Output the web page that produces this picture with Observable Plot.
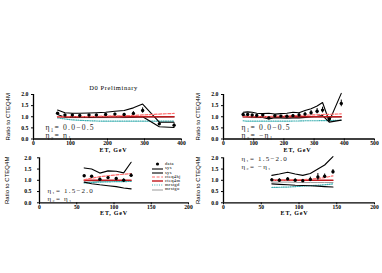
<!DOCTYPE html>
<html><head><meta charset="utf-8">
<script src="https://cdn.jsdelivr.net/npm/d3@7"></script>
<script src="https://cdn.jsdelivr.net/npm/@observablehq/plot@0.6"></script>
<style>
html,body{margin:0;padding:0;background:#fff;}
#chart{position:relative;width:382px;height:273px;overflow:hidden;font-family:"Liberation Serif",serif;}
#chart svg{position:absolute;left:0;top:0;}
.eta text{letter-spacing:1.2px;}
.etl text{letter-spacing:0.8px;}
.pre text{letter-spacing:0.6px;}
#legend{position:absolute;left:152px;top:162.3px;font-size:4.6px;line-height:4.2px;color:#000;}
#legend div{display:flex;align-items:center;height:4.2px;white-space:nowrap;letter-spacing:0.3px;}
#legend svg{position:static !important;margin-right:2px;}
</style>
</head><body>
<div id="chart"><div id="legend"></div></div>
<script>
// ---------- data ----------
const yTicks = [0, 0.5, 1, 1.5, 2];
const xTicksTL = [0, 100, 200, 300, 400];
const xTicksTR = [0, 100, 200, 300, 400, 500];
const xTicksB = [0, 50, 100, 150, 200];
const legendNames = ["data", "sys", "sys", "cteq4hj", "cteq4m", "mrstgd", "mrstgu"];

// top-left: eta1 = 0.0-0.5, eta2 = eta1
const tlET    = [65, 85, 105, 125, 150, 170, 195, 220, 245, 270, 295, 340, 380];
const tlData  = [1.16, 1.08, 1.08, 1.06, 1.08, 1.08, 1.10, 1.12, 1.10, 1.15, 1.28, 0.68, 0.62];
const tlErr   = [0.02, 0.02, 0.02, 0.02, 0.02, 0.03, 0.03, 0.04, 0.05, 0.08, 0.12, 0.06, 0.06];
const tlSysUp = [1.30, 1.18, 1.16, 1.16, 1.17, 1.18, 1.20, 1.25, 1.28, 1.40, 1.57, 0.76, 0.75];
const tlSysLo = [1.10, 0.98, 0.97, 0.97, 0.97, 0.98, 0.98, 1.00, 0.98, 0.98, 1.00, 0.55, 0.52];
const tlHJ    = [1.00, 1.00, 1.00, 1.00, 1.01, 1.02, 1.03, 1.04, 1.05, 1.06, 1.08, 1.12, 1.15];
const tlM     = [1.00, 1.00, 1.00, 1.00, 1.00, 1.00, 1.00, 1.00, 1.00, 1.00, 1.00, 1.00, 1.00];
const tlGD    = [0.95, 0.90, 0.86, 0.84, 0.82, 0.81, 0.80, 0.80, 0.80, 0.80, 0.80, 0.80, 0.80];
const tlGU    = [0.98, 0.97, 0.96, 0.96, 0.96, 0.96, 0.96, 0.96, 0.96, 0.97, 0.97, 0.97, 0.98];

// top-right: eta1 = 0.0-0.5, eta2 = -eta1
const trET    = [65, 80, 95, 110, 130, 150, 170, 190, 210, 230, 250, 270, 290, 310, 328, 350, 390];
const trData  = [1.10, 1.10, 1.08, 1.06, 1.08, 0.95, 1.05, 1.03, 1.02, 1.05, 1.08, 1.12, 1.18, 1.25, 1.30, 0.90, 1.60];
const trErr   = [0.02, 0.02, 0.02, 0.02, 0.02, 0.03, 0.03, 0.03, 0.04, 0.05, 0.06, 0.08, 0.10, 0.12, 0.13, 0.05, 0.15];
const trSysUp = [1.20, 1.22, 1.20, 1.16, 1.14, 1.16, 1.12, 1.14, 1.16, 1.20, 1.18, 1.28, 1.36, 1.48, 1.64, 0.80, 2.05];
const trSysLo = [1.05, 1.00, 0.98, 0.97, 0.97, 0.90, 0.96, 0.95, 0.93, 0.95, 0.95, 0.97, 1.00, 1.02, 1.05, 0.76, 0.85];
const trHJ    = [1.00, 1.00, 1.00, 1.00, 1.00, 1.01, 1.02, 1.03, 1.04, 1.05, 1.06, 1.07, 1.08, 1.09, 1.10, 1.11, 1.13];
const trM     = [1.00, 1.00, 1.00, 1.00, 1.00, 1.00, 1.00, 1.00, 1.00, 1.00, 1.00, 1.00, 1.00, 1.00, 1.00, 1.00, 1.00];
const trGD    = [0.82, 0.80, 0.80, 0.80, 0.80, 0.80, 0.80, 0.80, 0.80, 0.81, 0.81, 0.82, 0.82, 0.82, 0.83, 0.83, 0.84];
const trGU    = [0.97, 0.97, 0.96, 0.96, 0.96, 0.96, 0.96, 0.96, 0.96, 0.96, 0.96, 0.96, 0.97, 0.97, 0.97, 0.97, 0.98];

// bottom-left: eta1 = 1.5-2.0, eta2 = eta1
const blET    = [60, 70, 81, 92, 103, 113, 123];
const blData  = [1.20, 1.18, 1.05, 1.12, 1.08, 1.00, 1.22];
const blErr   = [0.03, 0.03, 0.04, 0.04, 0.05, 0.06, 0.08];
const blSysUp = [1.55, 1.50, 1.32, 1.42, 1.40, 1.33, 1.80];
const blSysLo = [0.92, 0.85, 0.80, 0.76, 0.72, 0.66, 0.62];
const blHJ    = [1.02, 1.10, 1.16, 1.20, 1.24, 1.27, 1.30];
const blM     = [1.00, 1.00, 1.00, 1.00, 1.00, 1.00, 1.00];
const blGD    = [0.88, 0.90, 0.92, 0.93, 0.94, 0.94, 0.95];
const blGU    = [0.92, 0.93, 0.95, 0.96, 0.97, 0.97, 0.98];

// bottom-right: eta1 = 1.5-2.0, eta2 = -eta1
const brET    = [64, 74, 85, 95, 105, 115, 125, 134, 145];
const brData  = [1.02, 1.00, 1.06, 1.00, 0.98, 1.04, 1.15, 1.18, 1.38];
const brErr   = [0.06, 0.07, 0.06, 0.06, 0.06, 0.10, 0.15, 0.10, 0.10];
const brSysUp = [1.22, 1.28, 1.36, 1.28, 1.22, 1.30, 1.50, 1.68, 2.05];
const brSysLo = [0.84, 0.82, 0.80, 0.78, 0.77, 0.76, 0.74, 0.72, 0.70];
const brHJ    = [1.00, 1.00, 1.01, 1.02, 1.03, 1.05, 1.08, 1.12, 1.20];
const brM     = [1.00, 1.00, 1.00, 1.00, 1.00, 1.00, 1.00, 1.00, 1.00];
const brGD    = [0.68, 0.69, 0.70, 0.72, 0.74, 0.76, 0.78, 0.80, 0.84];
const brGU    = [0.92, 0.92, 0.92, 0.91, 0.90, 0.90, 0.90, 0.90, 0.90];

// ---------- styles ----------
const C = {hj: "#ff6b6b", m: "#c0181c", gd: "#3aaeb0", gu: "#9a9a9a"};
const serif = "'Liberation Serif', 'Times New Roman', serif";
const narrow = "'Liberation Sans Narrow', 'Liberation Sans', sans-serif";

function rowsOf(et, v, e, up, lo, hj, m, gd, gu) {
  return et.map((x, i) => ({et: x, v: v[i], e: e[i], up: up[i], lo: lo[i], hj: hj[i], m: m[i], gd: gd[i], gu: gu[i]}));
}

function panel(o) {
  const rows = o.rows;
  const marks = [
    Plot.line(rows, {x: "et", y: "gu", stroke: C.gu, strokeWidth: 1}),
    Plot.line(rows, {x: "et", y: "gd", stroke: C.gd, strokeWidth: 1.2, strokeDasharray: "1,1.3"}),
    Plot.line(rows, {x: "et", y: "up", stroke: "black", strokeWidth: 1.1}),
    Plot.line(rows, {x: "et", y: "lo", stroke: "black", strokeWidth: 1.1}),
    Plot.line(rows, {x: "et", y: "m", stroke: C.m, strokeWidth: 1.4}),
    Plot.line(rows, {x: "et", y: "hj", stroke: C.hj, strokeWidth: 1.2, strokeDasharray: "3,1.6"}),
    Plot.ruleX(rows, {x: "et", y1: d => d.v - d.e, y2: d => d.v + d.e, stroke: "black", strokeWidth: 1}),
    Plot.dot(rows, {x: "et", y: "v", r: 1.7, fill: "black", stroke: "none"}),
    Plot.ruleX([0], {stroke: "black", strokeWidth: 1.3}),
    Plot.ruleY([0], {stroke: "black", strokeWidth: 1.3}),
    Plot.axisY(yTicks, {tickFormat: d3.format(".1f"), tickSize: 2, tickPadding: o.yPad, fontSize: 5.8, fontWeight: "bold", fontFamily: serif, label: null}),
    Plot.axisX(o.xTicks, {tickSize: 2, tickPadding: 0.5, fontSize: 5.6, fontWeight: "bold", fontFamily: serif, label: null}),
    Plot.text(["Ratio to CTEQ4M"], {frameAnchor: "left", textAnchor: "middle", lineAnchor: "middle", dx: o.yLabDx, rotate: -90, fontSize: 6, fontFamily: narrow, fill: "black"}),
    Plot.text(["ET, GeV"], {frameAnchor: "bottom", lineAnchor: "middle", dx: o.etDx, dy: o.etDy, fontSize: 6, fontWeight: "bold", fontFamily: serif, fill: "black", className: "etl"}),
    Plot.text([o.eta1], {frameAnchor: o.etaAnchor, textAnchor: "start", lineAnchor: "middle", dx: o.etaDx, dy: o.etaDy1, fontSize: o.etaFs, fontFamily: serif, fill: "#222", className: "eta"}),
    Plot.text([o.eta2], {frameAnchor: o.etaAnchor, textAnchor: "start", lineAnchor: "middle", dx: o.etaDx, dy: o.etaDy2, fontSize: o.etaFs, fontFamily: serif, fill: "#222", className: "eta"})
  ];
  if (o.title) marks.push(Plot.text([o.title], {frameAnchor: "top", lineAnchor: "middle", dx: 6, dy: -7, fontSize: 6.5, fontFamily: serif, fill: "black", className: "pre"}));
  return Plot.plot({
    width: 382, height: 273,
    marginLeft: o.f[0], marginRight: 382 - o.f[1], marginTop: o.f[2], marginBottom: 273 - o.f[3],
    style: {background: "transparent", overflow: "visible"},
    x: {domain: o.xDomain},
    y: {domain: [0, 2]},
    marks
  });
}

const chart = document.getElementById("chart");
const panels = [
  {rows: rowsOf(tlET, tlData, tlErr, tlSysUp, tlSysLo, tlHJ, tlM, tlGD, tlGU), f: [33, 181, 94, 138.5], xDomain: [0, 400], xTicks: xTicksTL,
   yPad: 3, yLabDx: -25, etDx: 6, etDy: 11.2, eta1: "η₁= 0.0−0.5", eta2: "η₂= η₁", etaAnchor: "bottom-left", etaDx: 12, etaDy1: -11.5, etaDy2: -3, etaFs: 7.6, title: "D0 Preliminary"},
  {rows: rowsOf(trET, trData, trErr, trSysUp, trSysLo, trHJ, trM, trGD, trGU), f: [223, 374, 94, 138.5], xDomain: [0, 500], xTicks: xTicksTR,
   yPad: 3, yLabDx: -25, etDx: -1.5, etDy: 11.2, eta1: "η₁= 0.0−0.5", eta2: "η₂= −η₁", etaAnchor: "bottom-left", etaDx: 18, etaDy1: -11.5, etaDy2: -3, etaFs: 7.6},
  {rows: rowsOf(blET, blData, blErr, blSysUp, blSysLo, blHJ, blM, blGD, blGU), f: [39, 188, 157.3, 202.3], xDomain: [0, 200], xTicks: xTicksB,
   yPad: 6, yLabDx: -32, etDx: 0, etDy: 10.2, eta1: "η₁= 1.5−2.0", eta2: "η₂= η₁", etaAnchor: "bottom-left", etaDx: 8, etaDy1: -12, etaDy2: -4.4, etaFs: 7},
  {rows: rowsOf(brET, brData, brErr, brSysUp, brSysLo, brHJ, brM, brGD, brGU), f: [223, 374, 157.3, 202.3], xDomain: [0, 200], xTicks: xTicksB,
   yPad: 3, yLabDx: -25, etDx: -4.5, etDy: 10.2, eta1: "η₁= 1.5−2.0", eta2: "η₂= −η₁", etaAnchor: "top-left", etaDx: 18, etaDy1: 1.4, etaDy2: 9, etaFs: 7}
];
for (const p of panels) chart.insertBefore(panel(p), document.getElementById("legend"));

// ---------- legend (bottom-left panel) ----------
const legendStyles = [
  {type: "dot"},
  {type: "line", stroke: "black", w: 1.1},
  {type: "line", stroke: "black", w: 1.1},
  {type: "line", stroke: C.hj, w: 1.2, dash: "3,1.6"},
  {type: "line", stroke: C.m, w: 1.4},
  {type: "line", stroke: C.gd, w: 1.2, dash: "1,1.3"},
  {type: "line", stroke: C.gu, w: 1}
];
const legend = document.getElementById("legend");
legendNames.forEach((name, i) => {
  const s = legendStyles[i];
  const row = document.createElement("div");
  const sym = s.type === "dot"
    ? `<svg width="11" height="4" viewBox="0 0 11 4"><circle cx="5.5" cy="2" r="1.6" fill="black"/></svg>`
    : `<svg width="11" height="4" viewBox="0 0 11 4"><line x1="0" y1="2" x2="11" y2="2" stroke="${s.stroke}" stroke-width="${s.w}" ${s.dash ? `stroke-dasharray="${s.dash}"` : ""}/></svg>`;
  row.innerHTML = sym + `<span>${name}</span>`;
  legend.appendChild(row);
});
</script>
</body></html>
